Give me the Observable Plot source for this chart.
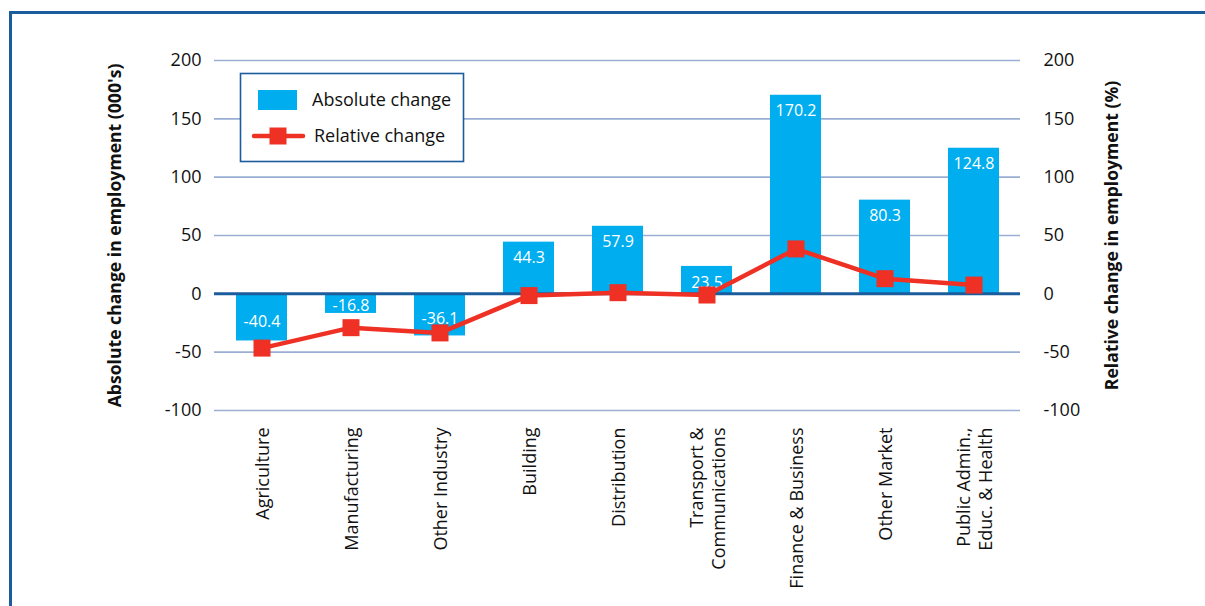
<!DOCTYPE html>
<html><head><meta charset="utf-8">
<script src="https://cdn.jsdelivr.net/npm/d3@7"></script>
<script src="https://cdn.jsdelivr.net/npm/@observablehq/plot@0.6"></script>
<style>
body{margin:0;background:#fff;font-family:"Open Sans",sans-serif}
#wrap{position:relative;width:1205px;height:606px;overflow:hidden}
#wrap svg.chart{position:absolute;left:0;top:0}
.frameTop{position:absolute;left:9px;top:11px;width:1196px;height:2.5px;background:#1b5c9c}
.frameLeft{position:absolute;left:9px;top:11px;width:2.5px;height:595px;background:#1b5c9c}
#legend{position:absolute;left:0;top:0}
</style></head><body><div id="wrap"><div class="frameTop"></div><div class="frameLeft"></div></div><script>
const categories = ["Agriculture","Manufacturing","Other Industry","Building","Distribution","Transport & Communications","Finance & Business","Other Market","Public Admin., Educ. & Health"];
const tickLabels = ["Agriculture","Manufacturing","Other Industry","Building","Distribution","Transport &\nCommunications","Finance & Business","Other Market","Public Admin.,\nEduc. & Health"];
const absChange = [-40.4, -16.8, -36.1, 44.3, 57.9, 23.5, 170.2, 80.3, 124.8];
const relChange = [-46.5, -29, -33.5, -1.5, 1, -1, 38.5, 13, 7.5];
const yTicks = [-100, -50, 0, 50, 100, 150, 200];
const seriesNames = ["Absolute change", "Relative change"];

const data = categories.map((c, i) => ({cat: c, abs: absChange[i], rel: relChange[i], label: tickLabels[i]}));

const chart = Plot.plot({
  width: 1205, height: 606,
  marginLeft: 214, marginRight: 185, marginTop: 60, marginBottom: 196,
  style: {fontFamily: "'Open Sans', sans-serif", fontSize: "16px", color: "#111", background: "transparent"},
  x: {domain: categories, paddingInner: 0.43, paddingOuter: 0.215, label: null},
  y: {domain: [-100, 200], label: null},
  marks: [
    Plot.ruleY(yTicks.filter(t => t !== 0), {stroke: "#9aaed3", strokeWidth: 1.6}),
    Plot.barY(data, {x: "cat", y: "abs", fill: "#00aeef"}),
    Plot.ruleY([0], {stroke: "#1b5c9c", strokeWidth: 3}),
    Plot.text(data.filter(d => d.abs >= 0), {x: "cat", y: "abs", text: d => d.abs.toFixed(1), dy: 16, fill: "white", fontSize: 16}),
    Plot.text(data.filter(d => d.abs < 0), {x: "cat", y: d => d.abs * 0.6, text: d => d.abs.toFixed(1), fill: "white", fontSize: 16}),
    Plot.line(data, {x: "cat", y: "rel", stroke: "#ee3124", strokeWidth: 4.5}),
    Plot.dot(data, {x: "cat", y: "rel", symbol: "square", r: 9.6, fill: "#ee3124"}),
    Plot.axisY(yTicks, {anchor: "left", tickSize: 0, tickPadding: 13, fontSize: 18, label: null, tickFormat: d => String(d)}),
    Plot.axisY(yTicks, {anchor: "right", tickSize: 0, tickPadding: 23, fontSize: 18, label: null, tickFormat: d => String(d)}),
    Plot.axisX({anchor: "bottom", tickSize: 0, tickPadding: 17, tickRotate: -90, fontSize: 18, lineHeight: 1.2,
      tickFormat: d => tickLabels[categories.indexOf(d)], label: null}),
    Plot.text(["Absolute change in employment (000's)"], {frameAnchor: "left", dx: -99, rotate: -90, textAnchor: "middle", fontWeight: "bold", fontSize: 17.6}),
    Plot.text(["Relative change in employment (%)"], {frameAnchor: "right", dx: 92, rotate: -90, textAnchor: "middle", fontWeight: "bold", fontSize: 17.6})
  ]
});
chart.classList.add("chart");
document.getElementById("wrap").appendChild(chart);

// legend
const lg = d3.select("#wrap").append("svg").attr("id", "legend").attr("width", 1205).attr("height", 606);
lg.append("rect").attr("x", 240.5).attr("y", 73.5).attr("width", 223).attr("height", 88)
  .attr("fill", "white").attr("stroke", "#1b5c9c").attr("stroke-width", 1.6);
lg.append("rect").attr("x", 258).attr("y", 90).attr("width", 39).attr("height", 20).attr("fill", "#00aeef");
lg.append("line").attr("x1", 254).attr("x2", 303).attr("y1", 136).attr("y2", 136)
  .attr("stroke", "#ee3124").attr("stroke-width", 4.5).attr("stroke-linecap", "round");
lg.append("rect").attr("x", 269.5).attr("y", 127.5).attr("width", 17).attr("height", 17).attr("fill", "#ee3124");
lg.selectAll("text.l").data(seriesNames).join("text")
  .attr("x", (d, i) => i === 0 ? 312 : 314).attr("y", (d, i) => i === 0 ? 100 : 136)
  .attr("dy", "0.35em").attr("font-size", 18).attr("fill", "#111")
  .attr("font-family", "'Open Sans', sans-serif").text(d => d);
</script></body></html>
